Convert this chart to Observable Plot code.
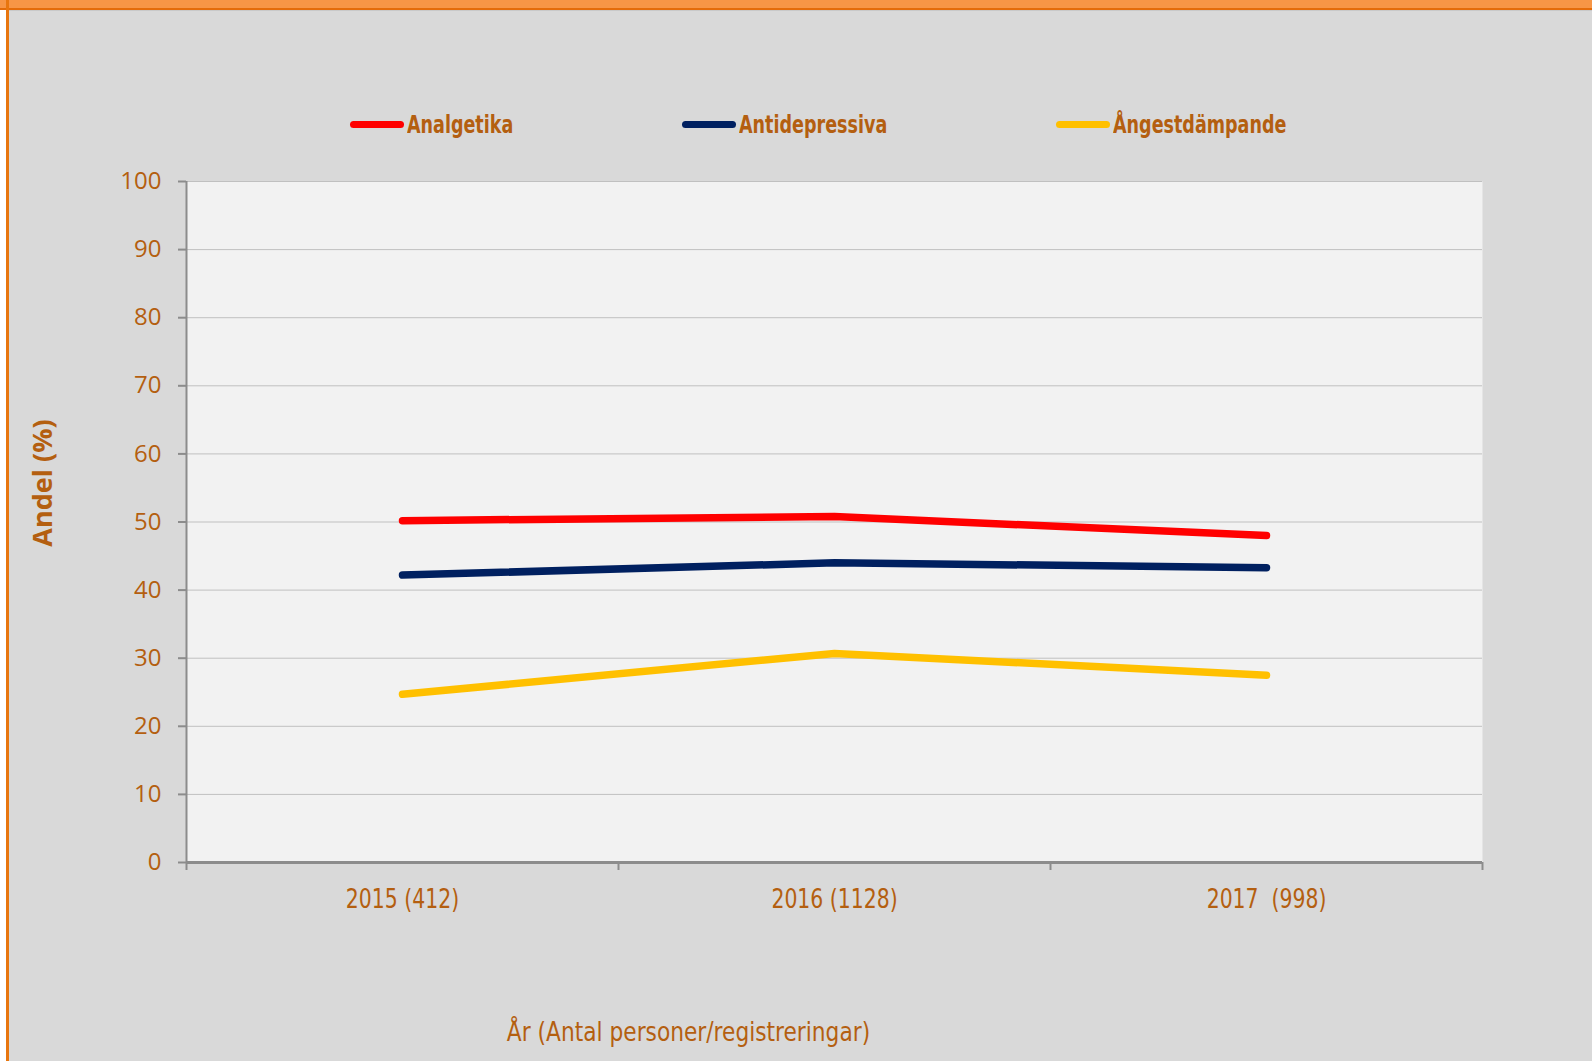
<!DOCTYPE html>
<html>
<head>
<meta charset="utf-8">
<script src="https://cdn.jsdelivr.net/npm/d3@7"></script>
<script src="https://cdn.jsdelivr.net/npm/@observablehq/plot@0.6"></script>
<style>
  html, body { margin: 0; padding: 0; background: #ffffff; }
  #page { position: relative; width: 1592px; height: 1061px; overflow: hidden; background: #ffffff; }
  #bg { position: absolute; left: 9px; top: 11px; right: 0; bottom: 0; background: #d9d9d9; }
  #topband { position: absolute; left: 0; top: 0; width: 1592px; height: 8px; background: #f79646; }
  #topline { position: absolute; left: 0; top: 8px; width: 1592px; height: 2px; background: #e46c0a; }
  #topgray { position: absolute; left: 9px; top: 10px; width: 1583px; height: 1px; background: #c9c9c9; }
  #leftline { position: absolute; left: 6px; top: 0; width: 3px; height: 1061px; background: #e8760f; }
  #chart { position: absolute; left: 0; top: 0; }
  #chart svg text { white-space: pre; }
  #legend { position: absolute; left: 0; top: 0; width: 1592px; height: 0; }
  .item { position: absolute; top: 108px; height: 32px; display: flex; align-items: center; white-space: nowrap; }
  .sw { width: 54px; height: 7px; border-radius: 4px; margin-right: 3px; flex: none; }
  .lbl { display: inline-block; transform: scaleX(0.78); transform-origin: left center;
         font-family: "Liberation Sans Narrow", "DejaVu Sans Condensed", sans-serif; font-weight: bold;
         font-size: 25px; color: #b45f10; }
</style>
</head>
<body>
<div id="page">
  <div id="bg"></div>
  <div id="topband"></div>
  <div id="topline"></div>
  <div id="topgray"></div>
  <div id="leftline"></div>
  <div id="chart"></div>
  <div id="legend"></div>
</div>
<script>
// ---- data ----
const categories = ["2015 (412)", "2016 (1128)", "2017  (998)"];
const seriesNames = ["Analgetika", "Antidepressiva", "Ångestdämpande"];
const analgetika = [50.2, 50.8, 48.0];
const antidepressiva = [42.2, 44.0, 43.3];
const angestdampande = [24.7, 30.7, 27.5];
const seriesColors = ["#ff0000", "#002060", "#ffc000"];
const yTicks = [0, 10, 20, 30, 40, 50, 60, 70, 80, 90, 100];
const yTitle = "Andel (%)";
const xTitle = "År (Antal personer/registreringar)";

const seriesValues = [analgetika, antidepressiva, angestdampande];
const rows = seriesNames.flatMap((s, k) =>
  seriesValues[k].map((v, i) => ({series: s, pos: i + 0.5, value: v, cat: categories[i]})));

const textColor = "#b45f10";
const axisColor = "#8c8c8c";
const narrow = "'Liberation Sans Narrow', 'DejaVu Sans Condensed', sans-serif";

const chart = Plot.plot({
  width: 1592,
  height: 1061,
  marginLeft: 186,
  marginRight: 110,
  marginTop: 181,
  marginBottom: 199,
  style: {background: "transparent", color: textColor},
  x: {type: "linear", domain: [0, categories.length], axis: null},
  y: {domain: [0, 100], axis: null},
  color: {domain: seriesNames, range: seriesColors},
  marks: [
    Plot.frame({fill: "#f2f2f2", stroke: null}),
    Plot.gridY(yTicks.filter(d => d > 0), {stroke: "#c0c0c0", strokeOpacity: 1, strokeWidth: 1}),
    Plot.axisY({ticks: yTicks, tickSize: 8, tickPadding: 17, stroke: axisColor, strokeWidth: 2,
      fill: textColor, fontSize: 24, fontFamily: "'Open Sans', sans-serif", tickFormat: d => String(d), label: null}),
    Plot.axisX({ticks: d3.range(0, categories.length + 1), tickSize: 8, tickFormat: () => "",
      stroke: axisColor, strokeWidth: 2, label: null}),
    Plot.ruleX([0], {stroke: axisColor, strokeWidth: 2}),
    Plot.ruleY([0], {stroke: axisColor, strokeWidth: 3}),
    Plot.text(categories, {x: (d, i) => i + 0.5, frameAnchor: "bottom", dy: 45,
      fill: textColor, fontSize: 27, fontFamily: narrow, className: "narrowtick"}),
    Plot.text([xTitle], {frameAnchor: "bottom", dx: 688 - 834, dy: 178,
      fill: textColor, fontSize: 27, fontFamily: narrow, className: "narrowtitle"}),
    Plot.text([yTitle], {frameAnchor: "left", textAnchor: "middle", dx: -143, dy: -39, rotate: -90,
      fill: textColor, fontSize: 27, fontWeight: "bold", fontFamily: "'Open Sans', sans-serif"}),
    Plot.line(rows, {x: "pos", y: "value", z: "series", stroke: "series",
      strokeWidth: 7.5, strokeLinecap: "round", strokeLinejoin: "round"})
  ]
});
document.getElementById("chart").appendChild(chart);

// condense the narrow texts horizontally (the original uses a condensed face)
function condense(sel, k) {
  chart.querySelectorAll(sel + " text").forEach(t => {
    const w = t.getComputedTextLength();
    t.setAttribute("textLength", (w * k).toFixed(1));
    t.setAttribute("lengthAdjust", "spacingAndGlyphs");
  });
}
condense(".narrowtick", 0.84);
condense(".narrowtitle", 0.895);

// ---- legend ----
const legend = document.getElementById("legend");
const legendLeft = [350, 682, 1056];
seriesNames.forEach((s, k) => {
  const item = document.createElement("div");
  item.className = "item";
  item.style.left = legendLeft[k] + "px";
  const sw = document.createElement("span");
  sw.className = "sw";
  sw.style.background = seriesColors[k];
  const lbl = document.createElement("span");
  lbl.className = "lbl";
  lbl.textContent = s;
  item.appendChild(sw);
  item.appendChild(lbl);
  legend.appendChild(item);
});
</script>
</body>
</html>
